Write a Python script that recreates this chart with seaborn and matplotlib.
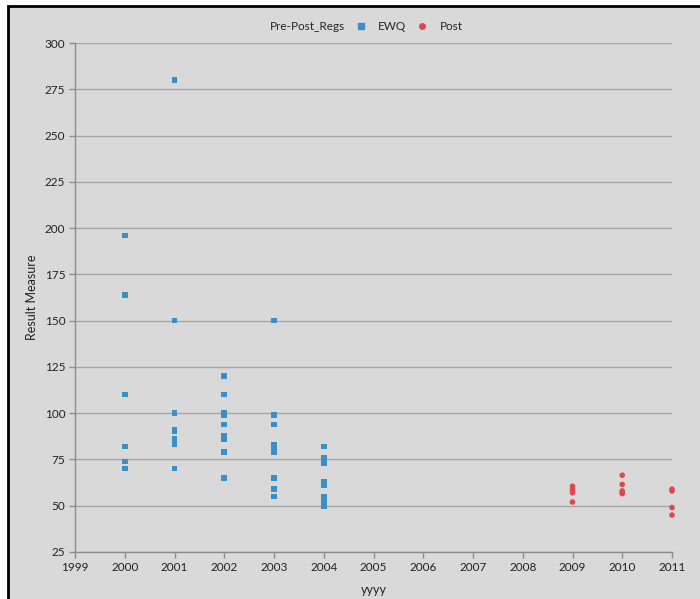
import matplotlib
matplotlib.use("Agg")
import matplotlib.pyplot as plt
import pandas as pd
import seaborn as sns
from matplotlib.lines import Line2D
from matplotlib.patches import Rectangle

# values
ewq_years = [2000] * 7 + [2001] * 9 + [2002] * 10 + [2003] * 10 + [2004] * 11
ewq_values = [
    196, 164, 110, 82, 74, 70, 70,
    280, 150, 100, 91, 90, 86, 83, 70, 70,
    120, 110, 110, 100, 99, 94, 88, 86, 79, 65,
    150, 99, 94, 94, 83, 82, 79, 65, 59, 55,
    82, 76, 75, 73, 63, 62, 61, 55, 53, 51, 50,
]
post_years = [2009] * 5 + [2010] * 5 + [2011] * 4
post_values = [
    60.5, 59, 58, 57, 52,
    66.5, 61.5, 58, 57, 56.5,
    59, 58, 49, 45,
]
year_ticks = list(range(1999, 2012))
value_ticks = list(range(25, 301, 25))

BG = "#d9d9d9"
GRID = "#a6a6a6"
BLUE = "#3a8fc6"
RED = "#e0474c"

df = pd.DataFrame({
    "yyyy": ewq_years + post_years,
    "Result Measure": ewq_values + post_values,
    "Pre-Post_Regs": ["EWQ"] * len(ewq_values) + ["Post"] * len(post_values),
})

sns.set_theme(style="white")
plt.rcParams["font.family"] = ["Lato", "DejaVu Sans"]

fig = plt.figure(figsize=(7.0, 5.99), dpi=100, facecolor="white")
# grey chart area with a black top/left frame
fig.add_artist(Rectangle((8 / 700, -0.1), 1.2, 1.1 - 6 / 599, transform=fig.transFigure,
                         facecolor=BG, edgecolor="black", linewidth=2, zorder=-10))

ax = fig.add_axes([75 / 700, 1 - 552 / 599, (672 - 75) / 700, (552 - 43) / 599])
ax.set_facecolor(BG)

sns.scatterplot(
    data=df, x="yyyy", y="Result Measure",
    hue="Pre-Post_Regs", style="Pre-Post_Regs",
    palette={"EWQ": BLUE, "Post": RED},
    markers={"EWQ": "s", "Post": "o"},
    s=16, linewidth=0, ax=ax, legend=False, zorder=3, clip_on=False,
)

ax.set_xlim(1999, 2011)
ax.set_ylim(25, 300)
ax.set_xticks(year_ticks)
ax.set_yticks(value_ticks)
ax.yaxis.grid(True, color=GRID, linewidth=1)
ax.xaxis.grid(False)
for side in ["top", "right"]:
    ax.spines[side].set_visible(False)
for side in ["left", "bottom"]:
    ax.spines[side].set_color("#8c8c8c")
    ax.spines[side].set_linewidth(1)
ax.tick_params(axis="both", direction="out", length=4, width=1, color="#8c8c8c",
               labelsize=8.5, labelcolor="#222222", bottom=True, left=True, pad=3)
ax.set_xlabel("yyyy", fontsize=9, color="#222222", labelpad=8)
ax.set_ylabel("Result Measure", fontsize=9, color="#222222", labelpad=5)

handles = [
    Line2D([], [], linestyle="none", marker=None),
    Line2D([], [], linestyle="none", marker="s", color=BLUE, markersize=4),
    Line2D([], [], linestyle="none", marker="o", color=RED, markersize=4),
]
fig.legend(handles, ["Pre-Post_Regs", "EWQ", "Post"], ncol=3, frameon=False,
           loc="center", bbox_to_anchor=(355 / 700, 1 - 27 / 599), fontsize=8.5,
           handlelength=0.8, handletextpad=1.1, columnspacing=0.9)

fig.savefig("out.png", dpi=100, facecolor="white")
